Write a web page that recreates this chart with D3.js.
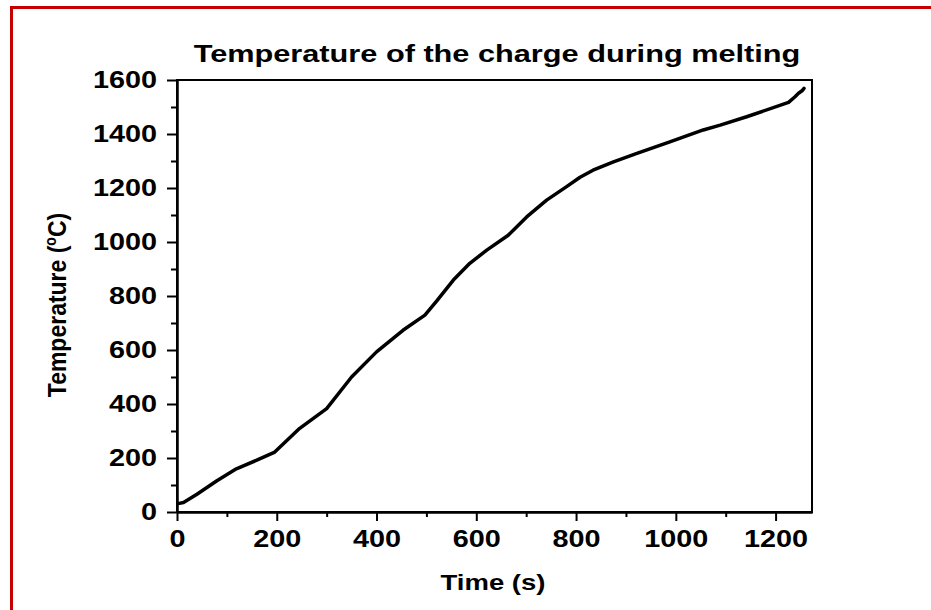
<!DOCTYPE html>
<html>
<head>
<meta charset="utf-8">
<script src="https://cdn.jsdelivr.net/npm/d3@7/dist/d3.min.js"></script>
<style>
  body { margin: 0; background: #fff; }
  svg { display: block; }
  text { font-family: "Liberation Sans", Arial, sans-serif; font-weight: bold; fill: #000; }
  .axis path, .axis line { stroke: #000; stroke-width: 2px; }
</style>
</head>
<body>
<svg width="931" height="610"></svg>
<script>
// time (s) and temperature (°C)
var time = [2, 13, 40, 80, 119, 160, 196, 246, 300, 350, 400, 453, 497, 520, 554, 587, 621, 664, 701, 741, 781, 808, 834, 875, 922, 988, 1055, 1089, 1142, 1226, 1239, 1246, 1253, 1257];
var temp = [31, 35, 66, 116, 160, 192, 222, 310, 383, 500, 593, 673, 729, 780, 859, 921, 970, 1025, 1093, 1155, 1205, 1240, 1266, 1297, 1328, 1371, 1415, 1433, 1464, 1517, 1538, 1551, 1560, 1569];
var xTicks = [0, 200, 400, 600, 800, 1000, 1200];
var yTicks = [0, 200, 400, 600, 800, 1000, 1200, 1400, 1600];

var svg = d3.select("svg");
var pLeft = 177, pRight = 812, pTop = 80, pBottom = 512;
var sx = 1.2; // the picture is stretched sideways

var x = d3.scaleLinear().domain([0, 1273]).range([pLeft, pRight]);
var y = d3.scaleLinear().domain([0, 1600]).range([pBottom, pTop]);

// red page border
svg.append("path")
    .attr("d", "M11.5,610 L11.5,7.5 L931,7.5")
    .attr("fill", "none")
    .attr("stroke", "#c40000")
    .attr("stroke-width", 3);

// minor ticks
svg.append("g").attr("class", "axis")
    .attr("transform", "translate(0," + pBottom + ")")
    .call(d3.axisBottom(x).tickValues(d3.range(100, 1273, 200)).tickSize(5).tickSizeOuter(0).tickFormat(""));
svg.append("g").attr("class", "axis")
    .attr("transform", "translate(" + pLeft + ",0)")
    .call(d3.axisLeft(y).tickValues(d3.range(100, 1600, 200)).tickSize(6).tickSizeOuter(0).tickFormat(""));

// major ticks with labels
var xa = svg.append("g").attr("class", "axis")
    .attr("transform", "translate(0," + pBottom + ")")
    .call(d3.axisBottom(x).tickValues(xTicks).tickSize(9).tickPadding(9).tickSizeOuter(0).tickFormat(d3.format("d")));
var ya = svg.append("g").attr("class", "axis")
    .attr("transform", "translate(" + pLeft + ",0)")
    .call(d3.axisLeft(y).tickValues(yTicks).tickSize(10).tickPadding(10).tickSizeOuter(0).tickFormat(d3.format("d")));

svg.selectAll(".axis text")
    .attr("font-size", 24)
    .attr("font-family", "'Liberation Sans', Arial, sans-serif")
    .attr("font-weight", "bold");
xa.selectAll("text").attr("transform", "scale(" + sx + ",1)");
ya.selectAll("text").attr("transform", "translate(-20,0) scale(" + sx + ",1) translate(20,0)");

// frame round the plot
svg.append("rect")
    .attr("x", pLeft).attr("y", pTop)
    .attr("width", pRight - pLeft).attr("height", pBottom - pTop)
    .attr("fill", "none").attr("stroke", "#000").attr("stroke-width", 2);

// the curve
var line = d3.line()
    .x(function(d, i) { return x(time[i]); })
    .y(function(d, i) { return y(temp[i]); });
svg.append("path")
    .datum(time)
    .attr("d", line)
    .attr("fill", "none")
    .attr("stroke", "#000")
    .attr("stroke-width", 3.5)
    .attr("stroke-linejoin", "round")
    .attr("stroke-linecap", "round");

// titles
svg.append("text")
    .attr("transform", "translate(497,62) scale(1.28,1)")
    .attr("text-anchor", "middle")
    .attr("font-size", 24)
    .text("Temperature of the charge during melting");

svg.append("text")
    .attr("transform", "translate(493,590) scale(1.25,1)")
    .attr("text-anchor", "middle")
    .attr("font-size", 22)
    .text("Time (s)");

var yl = svg.append("text")
    .attr("transform", "translate(66,305) scale(1.15,1) rotate(-90)")
    .attr("text-anchor", "middle")
    .attr("font-size", 23);
yl.append("tspan").text("Temperature (");
yl.append("tspan").attr("font-size", 14).attr("dy", -9).text("o");
yl.append("tspan").attr("dy", 9).text("C)");
</script>
</body>
</html>
